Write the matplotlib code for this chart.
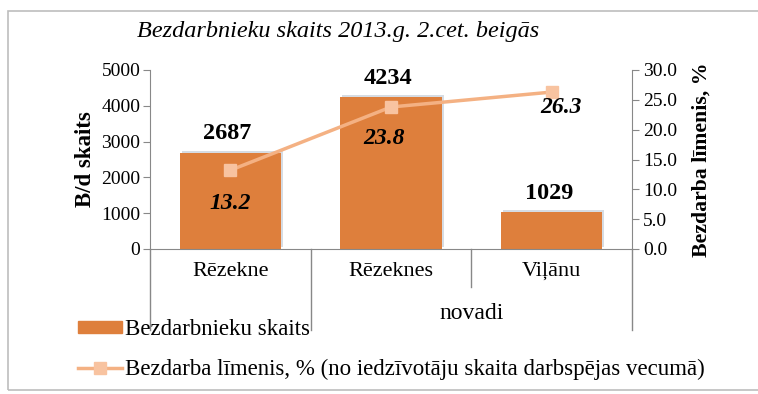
import matplotlib
matplotlib.use("Agg")
import matplotlib.pyplot as plt
import matplotlib.patheffects as pe
from matplotlib.patches import Rectangle
from matplotlib.lines import Line2D

# Data
categories = ["Rēzekne", "Rēzeknes", "Viļānu"]
unemployed = [2687, 4234, 1029]
rate = [13.2, 23.8, 26.3]
group_label = "novadi"
title = "Bezdarbnieku skaits 2013.g. 2.cet. beigās"
left_ticks = [0, 1000, 2000, 3000, 4000, 5000]
right_ticks = [0.0, 5.0, 10.0, 15.0, 20.0, 25.0, 30.0]

bar_color = "#DE7F3C"
line_color = "#F4B183"
marker_color = "#F8C3A0"
axis_color = "#888888"
serif = ["Liberation Serif", "DejaVu Serif"]

plt.rcParams["font.family"] = serif

fig = plt.figure(figsize=(7.58, 3.94), dpi=100)

# outer chart frame
fig.patches.append(Rectangle((8 / 758, 1 - 390 / 394), 1.0, (390 - 11) / 394,
                             transform=fig.transFigure, fill=False,
                             edgecolor="#BDBDBD", linewidth=1.2))

ax = fig.add_axes([150 / 758, 1 - 249 / 394, 482 / 758, 179 / 394])
ax2 = ax.twinx()

x = list(range(len(categories)))
ax.bar(x, unemployed, width=0.63, color=bar_color, zorder=2,
       path_effects=[pe.SimplePatchShadow(offset=(1.5, 1.5), shadow_rgbFace="#8A9BB0", alpha=0.35),
                     pe.Normal()])
ax.set_xlim(-0.5, len(categories) - 0.5)
ax.set_ylim(0, 5000)
ax.set_yticks(left_ticks)
ax.set_yticklabels([str(t) for t in left_ticks], fontsize=14, family=serif)
ax.set_xticks(x)
ax.set_xticklabels(categories, fontsize=16, family=serif)
ax.tick_params(axis="x", length=0, pad=9)
ax.tick_params(axis="y", length=5, color=axis_color, pad=2)

for s in ["top", "right"]:
    ax.spines[s].set_visible(False)
ax.spines["left"].set_color(axis_color)
ax.spines["bottom"].set_color(axis_color)

for xi, v in zip(x, unemployed):
    ax.annotate(str(v), (xi, v), xytext=(-2, 6), textcoords="offset points",
                ha="center", va="bottom", fontsize=17.5, fontweight="bold")

ax.set_ylabel("B/d skaits", fontsize=16.5, fontweight="bold", labelpad=4)

# category separators below the axis (two-level category axis)
sep_x = [-0.5, 0.5, 1.5, 2.5]
sep_len = [-0.452, -0.452, -0.212, -0.452]
trans = ax.get_xaxis_transform()
for sx, sl in zip(sep_x, sep_len):
    ax.plot([sx, sx], [0, sl], color=axis_color, linewidth=1, transform=trans, clip_on=False)
ax.text(1.5, -0.36, group_label, transform=trans, ha="center", va="center", fontsize=17)

# rate line on the secondary axis
ax2.plot(x, rate, color=line_color, linewidth=2.5, marker="s", markersize=8,
         markerfacecolor=marker_color, markeredgecolor=marker_color, zorder=3)
ax2.set_ylim(0, 30)
ax2.set_yticks(right_ticks)
ax2.set_yticklabels([f"{t:.1f}" for t in right_ticks], fontsize=14, family=serif)
ax2.tick_params(axis="y", length=5, color=axis_color, pad=3)
for s in ["top", "left", "bottom"]:
    ax2.spines[s].set_visible(False)
ax2.spines["right"].set_color(axis_color)
ax2.set_ylabel("Bezdarba līmenis, %", fontsize=15.7, fontweight="bold", labelpad=10)

rate_offsets = [(0, -24), (-5, -23), (7, -11)]
for xi, v, off in zip(x, rate, rate_offsets):
    ax2.annotate(f"{v:.1f}", (xi, v), xytext=off, textcoords="offset points",
                 ha="center", va="center", fontsize=17, fontweight="bold", style="italic")

fig.text(338 / 758, 1 - 31 / 394, title, ha="center", va="center",
         fontsize=17.5, style="italic")

handles = [Rectangle((0, 0), 1, 1, color=bar_color),
           Line2D([], [], color=line_color, linewidth=2.5, marker="s", markersize=8,
                  markerfacecolor=marker_color, markeredgecolor=marker_color)]
labels = ["Bezdarbnieku skaits",
          "Bezdarba līmenis, % (no iedzīvotāju skaita darbspējas vecumā)"]
fig.legend(handles, labels, loc="upper left", bbox_to_anchor=(78 / 758, 1 - 319 / 394),
           frameon=False, fontsize=16.5, handlelength=1.9, handleheight=0.4,
           handletextpad=0.15, labelspacing=0.8, borderaxespad=0, borderpad=0)

fig.savefig("out.png", dpi=100)
